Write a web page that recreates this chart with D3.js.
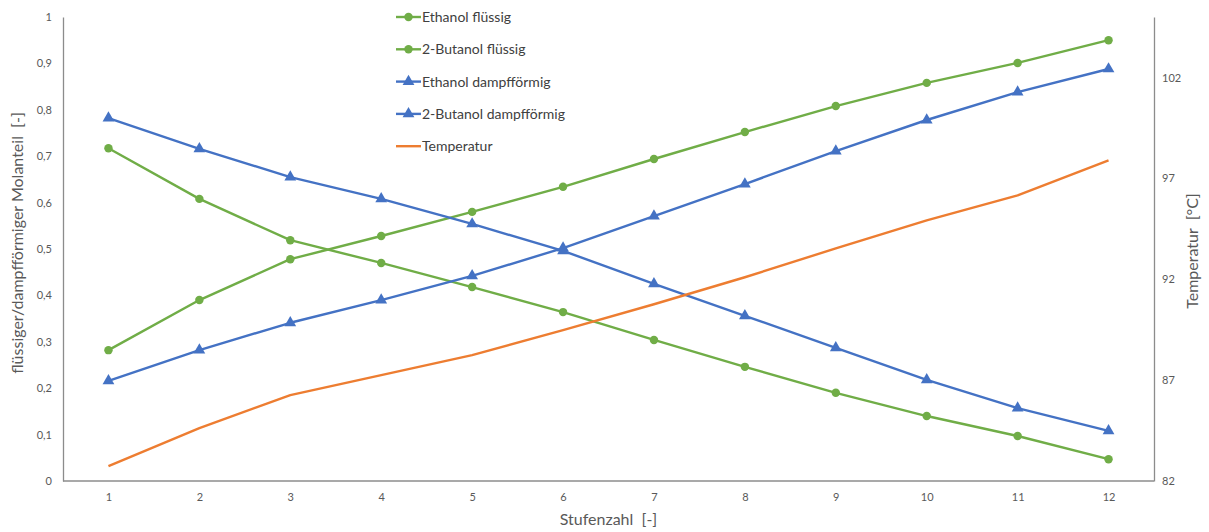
<!DOCTYPE html>
<html>
<head>
<meta charset="utf-8">
<script src="https://cdn.jsdelivr.net/npm/d3@7/dist/d3.min.js"></script>
<style>
  html, body { margin: 0; padding: 0; background: #fff; }
  svg { display: block; font-family: Lato, "Open Sans", sans-serif; }
  svg text { white-space: pre; }
</style>
</head>
<body>
<svg id="chart" width="1209" height="532"></svg>
<script>
// Stufen der Kolonne
const stages = [1, 2, 3, 4, 5, 6, 7, 8, 9, 10, 11, 12];

// Molanteile der flüssigen Phase
const ethanolLiquid = [0.717, 0.608, 0.519, 0.470, 0.418, 0.364, 0.304, 0.246, 0.190, 0.140, 0.097, 0.047];
const butanolLiquid = [0.282, 0.390, 0.478, 0.528, 0.580, 0.634, 0.694, 0.752, 0.808, 0.858, 0.901, 0.950];

// Molanteile der Dampfphase
const ethanolVapor = [0.782, 0.716, 0.655, 0.608, 0.554, 0.496, 0.425, 0.356, 0.287, 0.218, 0.157, 0.108];
const butanolVapor = [0.216, 0.282, 0.341, 0.390, 0.442, 0.502, 0.571, 0.640, 0.711, 0.778, 0.838, 0.888];

// Temperatur je Stufe in °C
const temperature = [82.74, 84.62, 86.26, 87.25, 88.24, 89.48, 90.76, 92.1, 93.53, 94.92, 96.16, 97.89];

// Achsenbeschriftungen
const leftTicks = [0, 0.1, 0.2, 0.3, 0.4, 0.5, 0.6, 0.7, 0.8, 0.9, 1];
const rightTicks = [82, 87, 92, 97, 102];

const series = [
  { name: "Ethanol flüssig", values: ethanolLiquid, color: "#70AD47", marker: "circle", axis: "left" },
  { name: "2-Butanol flüssig", values: butanolLiquid, color: "#70AD47", marker: "circle", axis: "left" },
  { name: "Ethanol dampfförmig", values: ethanolVapor, color: "#4472C4", marker: "triangle", axis: "left" },
  { name: "2-Butanol dampfförmig", values: butanolVapor, color: "#4472C4", marker: "triangle", axis: "left" },
  { name: "Temperatur", values: temperature, color: "#ED7D31", marker: null, axis: "right" }
];

const svg = d3.select("#chart");
const margin = { left: 63, right: 55, top: 17, bottom: 51 };
const W = 1209, H = 532;
const x0 = margin.left, x1 = W - margin.right, y0 = H - margin.bottom, y1 = margin.top;

const x = d3.scalePoint().domain(stages).range([x0, x1]).padding(0.5);
const yL = d3.scaleLinear().domain([0, 1]).range([y0, y1]);
const yR = d3.scaleLinear().domain([82, 105]).range([y0, y1]);

const axisColor = "#8c8c8c";
const tickColor = "#595959";
const fmt = d => String(d).replace(".", ",");

// Linke Achse
const gL = svg.append("g").attr("transform", `translate(${x0},0)`)
  .call(d3.axisLeft(yL).tickValues(leftTicks).tickFormat(fmt).tickSize(0).tickPadding(11));
// Rechte Achse
const gR = svg.append("g").attr("transform", `translate(${x1},0)`)
  .call(d3.axisRight(yR).tickValues(rightTicks).tickSize(0).tickPadding(8));
// Untere Achse
const gB = svg.append("g").attr("transform", `translate(0,${y0})`)
  .call(d3.axisBottom(x).tickSize(0).tickPadding(12));
gB.select(".domain").attr("d", `M${x0},0H${x1}`);

[gL, gR, gB].forEach(g => {
  g.select(".domain").attr("stroke", axisColor).attr("stroke-width", 1.3);
  g.selectAll(".tick text").attr("fill", tickColor).style("font-size", "11px")
    .style("font-family", "Lato, 'Open Sans', sans-serif");
});

// Achsentitel
svg.append("text")
  .attr("transform", `translate(23,${(y0 + y1) / 2 - 6}) rotate(-90)`)
  .attr("text-anchor", "middle").attr("fill", tickColor).style("font-size", "16px")
  .text("flüssiger/dampfförmiger Molanteil  [-]");
svg.append("text")
  .attr("transform", `translate(1198,${(y0 + y1) / 2 + 2}) rotate(-90)`)
  .attr("text-anchor", "middle").attr("fill", tickColor).style("font-size", "16px")
  .text("Temperatur  [°C]");
svg.append("text")
  .attr("x", (x0 + x1) / 2).attr("y", 525)
  .attr("text-anchor", "middle").attr("fill", tickColor).style("font-size", "16px")
  .text("Stufenzahl  [-]");

const circleSym = d3.symbol().type(d3.symbolCircle).size(56);
const triSym = d3.symbol().type(d3.symbolTriangle).size(60);

// Linien und Marker
series.forEach(s => {
  const ys = s.axis === "left" ? yL : yR;
  const line = d3.line().x((d, i) => x(stages[i])).y(d => ys(d));
  svg.append("path").datum(s.values)
    .attr("d", line).attr("fill", "none")
    .attr("stroke", s.color).attr("stroke-width", 2.4).attr("stroke-linejoin", "round");
  if (s.marker) {
    svg.append("g").selectAll("path").data(s.values).join("path")
      .attr("transform", (d, i) => `translate(${x(stages[i])},${ys(d)})`)
      .attr("d", s.marker === "circle" ? circleSym : triSym)
      .attr("fill", s.color);
  }
});

// Legende
const legend = svg.append("g").attr("transform", "translate(396,17)");
series.forEach((s, i) => {
  const g = legend.append("g").attr("transform", `translate(0,${i * 32.3})`);
  g.append("line").attr("x1", 0).attr("x2", 25).attr("y1", 0).attr("y2", 0)
    .attr("stroke", s.color).attr("stroke-width", 2.4);
  if (s.marker) {
    g.append("path").attr("transform", "translate(12.5,0)")
      .attr("d", s.marker === "circle" ? circleSym : triSym).attr("fill", s.color);
  }
  g.append("text").attr("x", 26).attr("y", 0).attr("dy", "0.35em")
    .attr("fill", "#404040").style("font-size", "14px").text(s.name);
});
</script>
</body>
</html>
